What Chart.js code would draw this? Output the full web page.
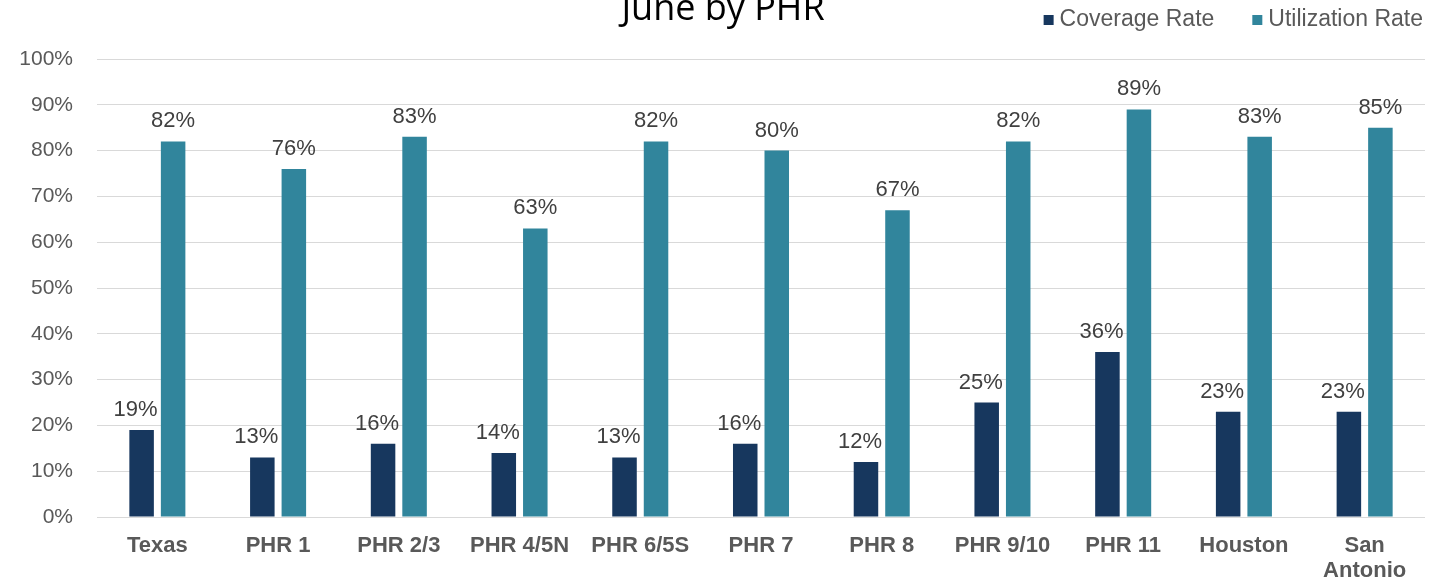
<!DOCTYPE html>
<html lang="en">
<head>
    <meta charset="UTF-8">
    <title>June by PHR</title>
    <script src="https://cdn.jsdelivr.net/npm/chart.js"></script>
    <style>
        html, body { margin: 0; padding: 0; background: #fff; overflow: hidden; }
    </style>
</head>
<body>
    <canvas id="phrChart" width="1432" height="582"></canvas>

    <script>
        const regions = ['Texas', 'PHR 1', 'PHR 2/3', 'PHR 4/5N', 'PHR 6/5S', 'PHR 7', 'PHR 8', 'PHR 9/10', 'PHR 11', 'Houston', ['San', 'Antonio']];
        const coverageRate = [19, 13, 16, 14, 13, 16, 12, 25, 36, 23, 23];
        const utilizationRate = [82, 76, 83, 63, 82, 80, 67, 82, 89, 83, 85];
        const yTicks = [0, 10, 20, 30, 40, 50, 60, 70, 80, 90, 100];

        const labelFont = '22px "Liberation Sans", Arial, sans-serif';

        // title (cut off at the top like the original) + legend in the top right
        const headerPlugin = {
            id: 'header',
            afterDraw(chart) {
                const ctx = chart.ctx;
                ctx.save();
                ctx.fillStyle = '#000';
                ctx.font = '36px "Open Sans", sans-serif';
                ctx.textAlign = 'center';
                ctx.textBaseline = 'alphabetic';
                ctx.fillText('June by PHR', 723, 20);

                ctx.font = '23px "Liberation Sans", Arial, sans-serif';
                ctx.textBaseline = 'middle';
                ctx.textAlign = 'right';
                // lay items out from the right edge
                let x = 1423;
                chart.data.datasets.slice().reverse().forEach(ds => {
                    const w = ctx.measureText(ds.label).width;
                    ctx.fillStyle = '#595959';
                    ctx.fillText(ds.label, x, 20);
                    ctx.fillStyle = ds.backgroundColor;
                    ctx.fillRect(x - w - 16, 15, 10, 10);
                    x -= w + 16 + 38;
                });
                ctx.restore();
            }
        };

        // value labels above bars
        const valueLabels = {
            id: 'valueLabels',
            afterDatasetsDraw(chart) {
                const ctx = chart.ctx;
                ctx.save();
                ctx.font = labelFont;
                ctx.fillStyle = '#404040';
                ctx.textAlign = 'center';
                ctx.textBaseline = 'alphabetic';
                chart.data.datasets.forEach((ds, i) => {
                    const shift = i === 0 ? -6 : 0;
                    chart.getDatasetMeta(i).data.forEach((bar, j) => {
                        ctx.fillText(ds.data[j] + '%', bar.x + shift, bar.y - 14);
                    });
                });
                ctx.restore();
            }
        };

        new Chart(document.getElementById('phrChart').getContext('2d'), {
            type: 'bar',
            data: {
                labels: regions,
                datasets: [{
                    label: 'Coverage Rate',
                    data: coverageRate,
                    backgroundColor: '#17375e'
                }, {
                    label: 'Utilization Rate',
                    data: utilizationRate,
                    backgroundColor: '#31859c'
                }]
            },
            options: {
                responsive: false,
                animation: false,
                maintainAspectRatio: false,
                layout: { padding: { top: 59, right: 7, bottom: 0, left: 0 } },
                datasets: {
                    bar: { categoryPercentage: 0.522, barPercentage: 0.778 }
                },
                plugins: {
                    legend: { display: false },
                    title: { display: false },
                    tooltip: { enabled: false }
                },
                scales: {
                    x: {
                        grid: { display: false },
                        border: { display: false },
                        ticks: {
                            color: '#595959',
                            font: { family: '"Liberation Sans", Arial, sans-serif', size: 22, weight: 'bold', lineHeight: 1.15 },
                            padding: 8,
                            maxRotation: 0,
                            autoSkip: false
                        },
                        afterFit(scale) { scale.height = 65; }
                    },
                    y: {
                        min: 0,
                        max: 100,
                        afterBuildTicks(scale) { scale.ticks = yTicks.map(v => ({ value: v })); },
                        grid: { color: '#d9d9d9', lineWidth: 1, drawTicks: false },
                        border: { display: false },
                        ticks: {
                            color: '#595959',
                            font: { family: '"Liberation Sans", Arial, sans-serif', size: 21 },
                            padding: 24,
                            callback: v => v + '%'
                        },
                        afterFit(scale) { scale.width = 97; }
                    }
                }
            },
            plugins: [headerPlugin, valueLabels]
        });
    </script>
</body>
</html>
